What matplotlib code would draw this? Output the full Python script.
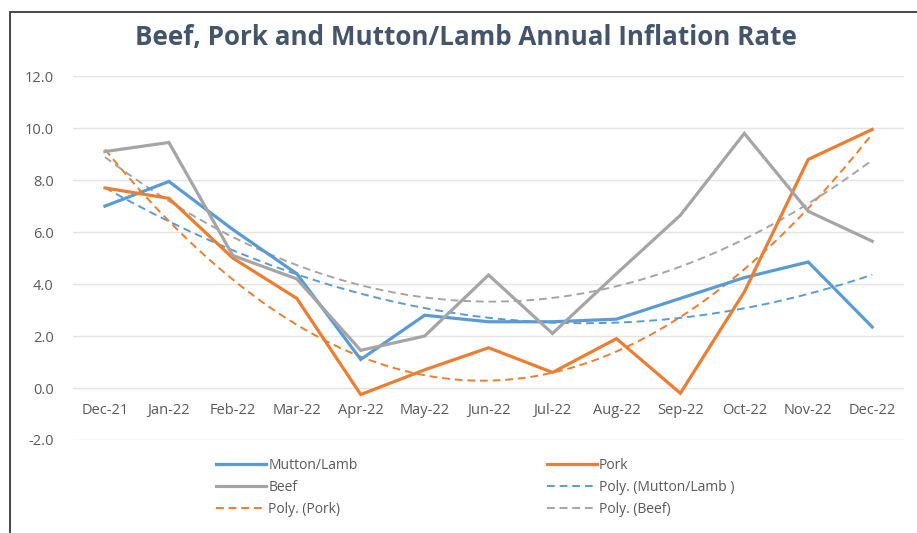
import matplotlib
matplotlib.use("Agg")
import matplotlib.pyplot as plt
import numpy as np
from matplotlib.patches import Rectangle

# 月度通胀率数据 (%)
months = ["Dec-21", "Jan-22", "Feb-22", "Mar-22", "Apr-22", "May-22", "Jun-22",
          "Jul-22", "Aug-22", "Sep-22", "Oct-22", "Nov-22", "Dec-22"]
mutton = [7.0, 7.95, 6.1, 4.4, 1.1, 2.8, 2.55, 2.55, 2.65, 3.45, 4.25, 4.85, 2.35]
pork = [7.7, 7.3, 5.0, 3.45, -0.25, 0.7, 1.55, 0.6, 1.9, -0.2, 3.7, 8.8, 9.95]
beef = [9.1, 9.45, 5.1, 4.2, 1.45, 2.0, 4.35, 2.1, 4.4, 6.65, 9.8, 6.8, 5.65]

c_blue = "#5b9bd5"
c_orange = "#ed7d31"
c_gray = "#a5a5a5"
txt = "#595959"

plt.rcParams['font.family'] = ['Open Sans', 'DejaVu Sans']

fig = plt.figure(figsize=(9.17, 5.33), dpi=100)
ax = fig.add_axes([0.0796, 0.1745, 0.9064, 0.6825])

x = np.arange(len(months))
xs = np.linspace(0, len(months) - 1, 200)

# 实线 数据
l_mut, = ax.plot(x, mutton, color=c_blue, lw=2.3, solid_joinstyle='miter', zorder=3)
l_pork, = ax.plot(x, pork, color=c_orange, lw=2.3, solid_joinstyle='miter', zorder=3)
l_beef, = ax.plot(x, beef, color=c_gray, lw=2.3, solid_joinstyle='miter', zorder=3)

# 二次多项式趋势线
def trend(vals, color):
    p = np.polyfit(x, vals, 2)
    line, = ax.plot(xs, np.polyval(p, xs), color=color, lw=1.4, ls=(0, (4, 2.5)), zorder=2)
    return line

t_mut = trend(mutton, c_blue)
t_pork = trend(pork, c_orange)
t_beef = trend(beef, c_gray)

ax.set_xlim(-0.5, len(months) - 0.5)
ax.set_ylim(-2, 12)
ax.set_yticks(np.arange(-2, 12.1, 2))
ax.set_yticklabels(["%.1f" % v for v in np.arange(-2, 12.1, 2)])
ax.tick_params(axis='y', length=0, labelsize=10.5, labelcolor=txt, pad=14)
ax.set_xticks([])
ax.grid(axis='y', color='#e4e4e4', lw=1)
ax.set_axisbelow(True)
for s in ax.spines.values():
    s.set_visible(False)

# 横轴标签放在 0 线下方
for i, lab in enumerate(months):
    ax.annotate(lab, (i, 0), xytext=(0, -16), textcoords='offset points',
                ha='center', va='center', fontsize=10.5, color=txt)

fig.text(0.508, 0.93, "Beef, Pork and Mutton/Lamb Annual Inflation Rate",
         ha='center', va='center', fontsize=18.7, fontweight='bold', color='#44546a')

handles = [l_mut, l_beef, t_pork, l_pork, t_mut, t_beef]
labels = ["Mutton/Lamb", "Beef", "Poly. (Pork)", "Pork", "Poly. (Mutton/Lamb )", "Poly. (Beef)"]
leg = fig.legend(handles, labels, ncol=2, loc='upper left', bbox_to_anchor=(0.236, 0.141),
                 frameon=False, fontsize=10, labelcolor=txt, handlelength=3.6,
                 handletextpad=0.15, columnspacing=13.6, labelspacing=0.52,
                 borderaxespad=0, borderpad=0)

# 外框
fig.patches.append(Rectangle((0.011, -0.05), 1.2, 1.027, transform=fig.transFigure,
                             fill=False, edgecolor='#3a3a3a', lw=1.3))

fig.savefig("out.png", dpi=100)
